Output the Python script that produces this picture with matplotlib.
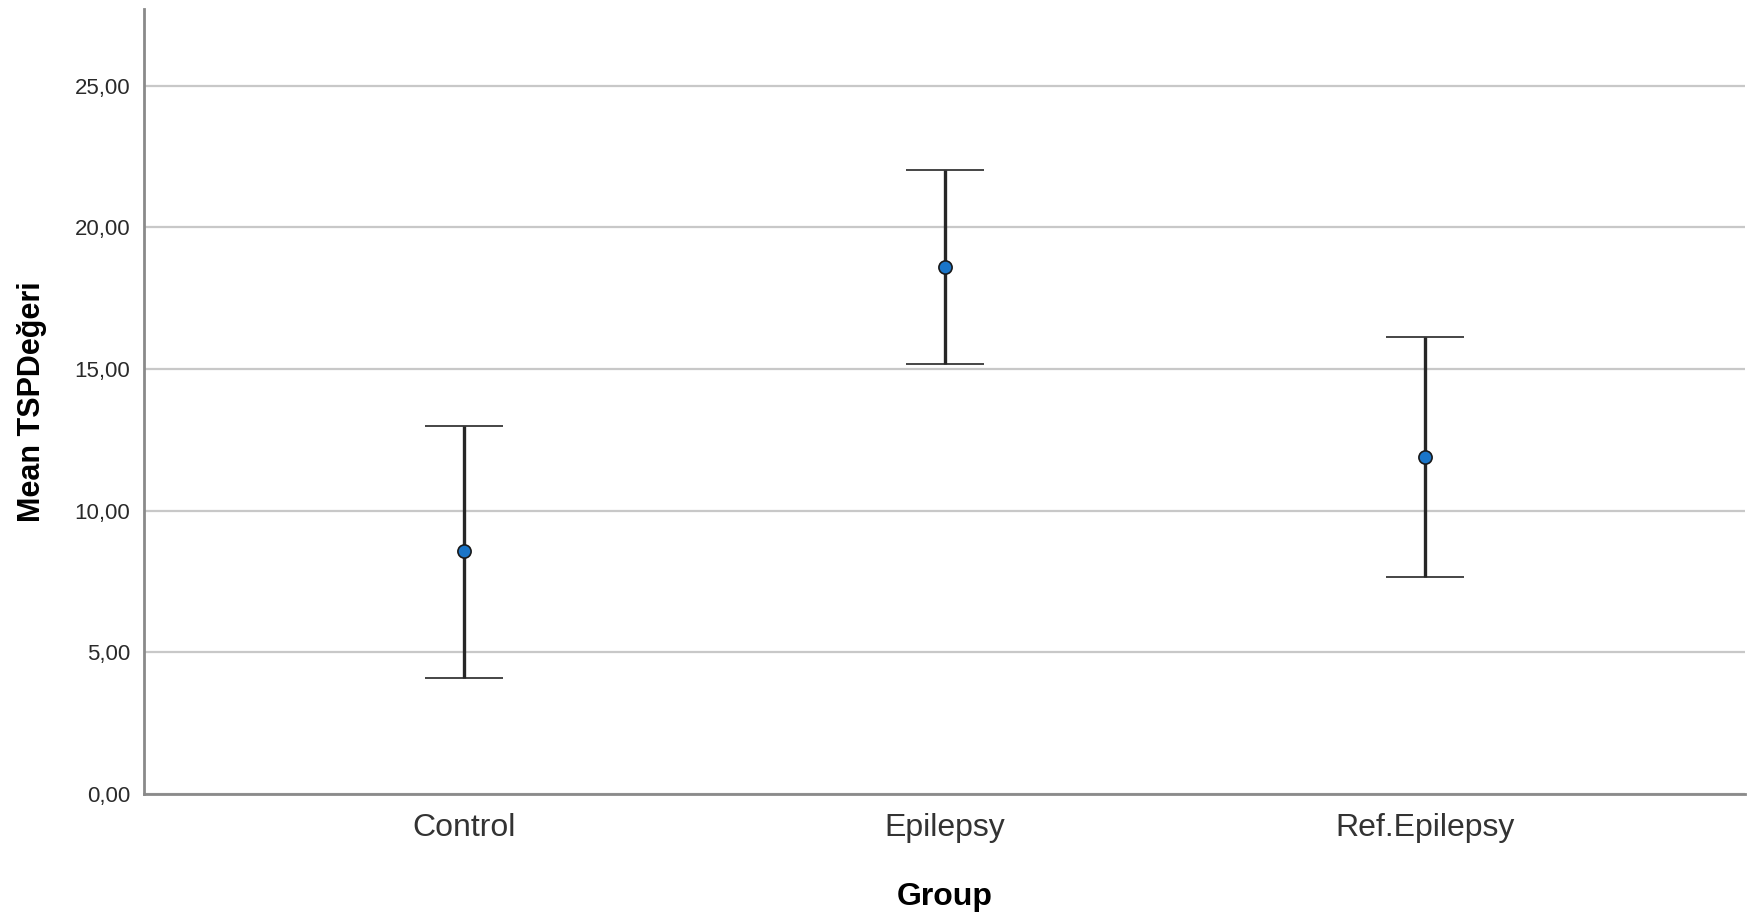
#!/usr/bin/env python3
"""Mean TSPDeğeri by group with error bars (SPSS-style error bar chart)."""
import matplotlib
matplotlib.use("Agg")
import matplotlib.pyplot as plt
import matplotlib.ticker as mticker
import numpy as np

groups = ["Control", "Epilepsy", "Ref.Epilepsy"]
means = [8.57, 18.61, 11.90]
upper = [12.98, 22.02, 16.11]
lower = [4.09, 15.16, 7.66]

plt.rcParams["font.family"] = ["Liberation Sans", "DejaVu Sans"]

W, H, DPI = 1762, 917, 100
fig = plt.figure(figsize=(W / DPI, H / DPI), dpi=DPI)
ax = fig.add_axes([144 / W, 1 - 794 / H, (1745 - 144) / W, (794 - 9) / H])

x = np.arange(1, len(groups) + 1)
m = np.array(means)
yerr = np.vstack([m - np.array(lower), np.array(upper) - m])

ax.errorbar(
    x, m, yerr=yerr, fmt="o",
    color="#262626", ecolor="#262626", elinewidth=2.4, capsize=28, capthick=2.4,
    markersize=9.5, markerfacecolor="#1a75c8", markeredgecolor="#1a1a1a",
    markeredgewidth=1.2, zorder=3,
)

ax.set_xlim(1 - 0.667, 3 + 0.667)
ax.set_ylim(0, 27.7)
ax.set_xticks(x)
ax.set_xticklabels(groups, fontsize=23, color="#333333")
ax.set_yticks([0, 5, 10, 15, 20, 25])
ax.yaxis.set_major_formatter(
    mticker.FuncFormatter(lambda v, _: f"{v:.2f}".replace(".", ","))
)
ax.tick_params(axis="y", length=0, pad=10, labelsize=16, labelcolor="#2a2a2a")
ax.tick_params(axis="x", length=0, pad=14)

ax.grid(True, axis="y", color="#c8c8c8", linewidth=1.6)
ax.set_axisbelow(True)
for side in ("top", "right"):
    ax.spines[side].set_visible(False)
for side in ("left", "bottom"):
    ax.spines[side].set_color("#8a8a8a")
    ax.spines[side].set_linewidth(2)

ax.set_ylabel("Mean TSPDeğeri", fontsize=22, fontweight="bold", labelpad=20)
ax.set_xlabel("Group", fontsize=23, fontweight="bold", labelpad=28)

fig.savefig("out.png", dpi=DPI)
